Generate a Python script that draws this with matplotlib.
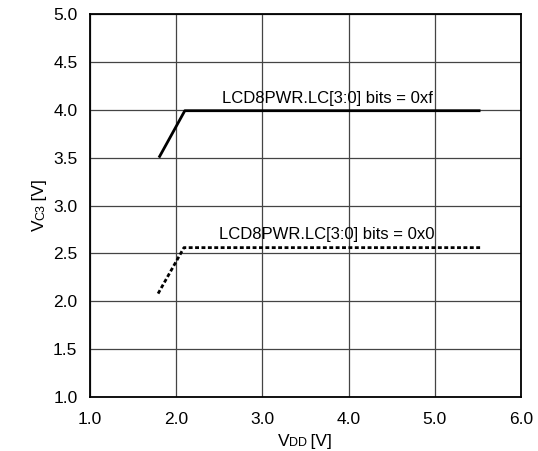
import matplotlib
matplotlib.use("Agg")
import matplotlib.pyplot as plt
from matplotlib.transforms import IdentityTransform

plt.rcParams['font.family'] = ['Liberation Sans', 'DejaVu Sans']

# data
vdd_0xf = [1.8, 2.1, 5.53]
vc3_0xf = [3.5, 3.99, 3.99]
vdd_0x0 = [1.79, 2.09, 5.53]
vc3_0x0 = [2.08, 2.56, 2.56]
label_0xf = "LCD8PWR.LC[3:0] bits = 0xf"
label_0x0 = "LCD8PWR.LC[3:0] bits = 0x0"
xticks = [1.0, 2.0, 3.0, 4.0, 5.0, 6.0]
yticks = [1.0, 1.5, 2.0, 2.5, 3.0, 3.5, 4.0, 4.5, 5.0]

W, H = 538, 451
fig = plt.figure(figsize=(W/100, H/100), dpi=100)
# plot box: left 90, right 521, top 14, bottom 397 (pixels)
ax = fig.add_axes([90/W, 1-397/H, 431/W, 383/H])

ax.plot(vdd_0xf, vc3_0xf, color='black', lw=2.0, solid_capstyle='butt', zorder=3)
ax.plot(vdd_0x0, vc3_0x0, color='black', lw=2.0, linestyle=(0, (1.4, 0.9)), zorder=3)

ax.text(3.75, 4.12, label_0xf, ha='center', va='center', fontsize=12)
ax.text(3.75, 2.70, label_0x0, ha='center', va='center', fontsize=12)

ax.set_xlim(1.0, 6.0)
ax.set_ylim(1.0, 5.0)
ax.set_xticks(xticks)
ax.set_yticks(yticks)
ax.set_xticklabels(["%.1f" % v for v in xticks])
ax.set_yticklabels(["%.1f" % v for v in yticks])
ax.tick_params(length=0, labelsize=12.5)
ax.tick_params(axis='y', pad=9)
ax.tick_params(axis='x', pad=11)
ax.grid(True, color='#444444', lw=0.9)
for s in ax.spines.values():
    s.set_linewidth(1.3)
    s.set_zorder(4)

# axis labels with small-caps style suffixes
renderer = fig.canvas.get_renderer()

def compound_label(cx, cy, parts, vertical=False):
    ts = []
    sizes = []
    for s, fs in parts:
        t = fig.text(0, 0, s, fontsize=fs, transform=IdentityTransform(),
                     ha='left', va='baseline', rotation=90 if vertical else 0,
                     rotation_mode='anchor')
        bb = t.get_window_extent(renderer)
        ts.append(t)
        sizes.append(bb.height if vertical else bb.width)
    total = sum(sizes)
    pos = -total / 2
    for t, w in zip(ts, sizes):
        if vertical:
            t.set_position((cx, cy + pos))
        else:
            t.set_position((cx + pos, cy))
        pos += w

compound_label(305, 5, [("V", 12.5), ("DD", 9), ("\u2009[V]", 12.5)])
compound_label(44, 246, [("V", 12.5), ("C3", 9), ("\u2009[V]", 12.5)], vertical=True)

fig.savefig("out.png", dpi=100)
